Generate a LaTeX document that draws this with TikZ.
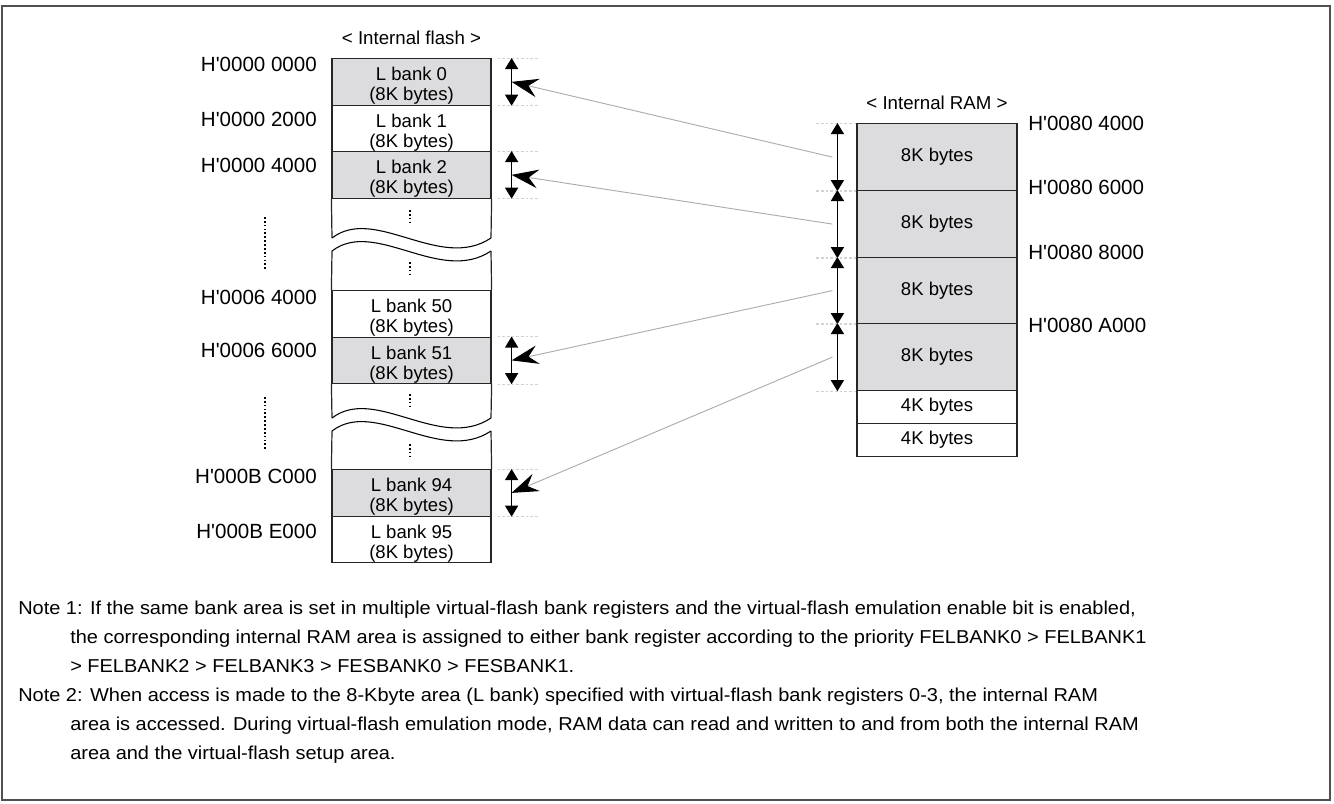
\documentclass[tikz,border=0pt]{standalone}
\usepackage{fontspec}
\usepackage{graphicx}
\setmainfont{Liberation Sans}[Ligatures=TeXOff]
\usetikzlibrary{arrows.meta}
\definecolor{bankgray}{RGB}{220,220,222}
\definecolor{framecol}{RGB}{80,80,80}
\newcommand{\wideline}[1]{\scalebox{1.07}[1]{#1}}
\begin{document}
\begin{tikzpicture}[x=0.75pt,y=-0.75pt,
  bankbox/.style={draw=black!85, line width=0.9pt, minimum width=119.25pt, minimum height=34.9pt, inner sep=0pt, anchor=north},
  rambox/.style={draw=black!85, line width=0.9pt, minimum width=120pt, inner sep=0pt, anchor=north, font=\fontsize{13.9pt}{15pt}\selectfont},
  banktxt/.style={align=center, inner sep=0pt, font=\fontsize{13.9pt}{15pt}\selectfont},
  addr/.style={inner sep=0pt, font=\fontsize{15.4pt}{17pt}\selectfont},
  title/.style={inner sep=0pt, font=\fontsize{14pt}{16pt}\selectfont},
  notetxt/.style={inner sep=0pt, anchor=base west, font=\fontsize{14pt}{16pt}\selectfont},
  dim/.style={line width=0.9pt, {Triangle[width=9.75pt,length=8.25pt]}-{Triangle[width=9.75pt,length=8.25pt]}},
  tick/.style={gray!35, line width=0.5pt, dash pattern=on 2pt off 1.5pt},
  conn/.style={gray!65, line width=0.7pt, -{Stealth[length=20pt,width=14pt,inset=7pt,black]}},
  vdots/.style={line width=1.3pt, dash pattern=on 1.3pt off 1.6pt},
  wave/.style={line width=0.8pt},
  side/.style={line width=0.9pt, black!85}
]
\useasboundingbox (0,0) rectangle (1334,803);
\draw[framecol, line width=1.5pt] (2,6) rectangle (1330,800);

% ---------- Internal flash ----------
\node[title] (ftitle) at (411.5,38) {< Internal flash >};
\node[bankbox, fill=bankgray] (b0) at (411.5,58) {};
\node[bankbox] (b1) at (411.5,104.5) {};
\node[bankbox, fill=bankgray] (b2) at (411.5,151) {};
\node[bankbox] (b50) at (411.5,290) {};
\node[bankbox, fill=bankgray] (b51) at (411.5,336.5) {};
\node[bankbox, fill=bankgray] (b94) at (411.5,469) {};
\node[bankbox] (b95) at (411.5,515.5) {};
\foreach \b/\t in {b0/0, b1/1, b2/2, b50/50, b51/51, b94/94, b95/95}
  \node[banktxt] (t\b) at ([yshift=-3pt]\b.center) {L bank \t\\(8K bytes)};

% broken parts
\coordinate (w1l) at (332,238); \coordinate (w1r) at (491,238);
\coordinate (w2l) at (332,251); \coordinate (w2r) at (491,251);
\coordinate (w3l) at (332,418); \coordinate (w3r) at (491,418);
\coordinate (w4l) at (332,431); \coordinate (w4r) at (491,431);
\draw[side] (b2.south west) -- (w1l);
\draw[side] (b2.south east) -- (w1r);
\draw[wave] (w1l) .. controls (375,205) and (440,272) .. (w1r);
\draw[wave] (w2l) .. controls (375,218) and (440,285) .. (w2r);
\draw[side] (w2l) -- (b50.north west);
\draw[side] (w2r) -- (b50.north east);
\draw[side] (b51.south west) -- (w3l);
\draw[side] (b51.south east) -- (w3r);
\draw[wave] (w3l) .. controls (375,385) and (440,452) .. (w3r);
\draw[wave] (w4l) .. controls (375,398) and (440,465) .. (w4r);
\draw[side] (w4l) -- (b94.north west);
\draw[side] (w4r) -- (b94.north east);
\draw[vdots] (410,210) -- (410,223);
\draw[vdots] (410,262) -- (410,275);
\draw[vdots] (410,394) -- (410,407);
\draw[vdots] (410,444) -- (410,457);

% addresses (flash)
\node[addr, anchor=east] (a0) at (317,64) {H'0000 0000};
\node[addr, anchor=east] (a1) at (317,119.5) {H'0000 2000};
\node[addr, anchor=east] (a2) at (317,165) {H'0000 4000};
\node[addr, anchor=east] (a50) at (317,297.5) {H'0006 4000};
\node[addr, anchor=east] (a51) at (317,350) {H'0006 6000};
\node[addr, anchor=east] (a94) at (317,476) {H'000B C000};
\node[addr, anchor=east] (a95) at (317,531) {H'000B E000};
\draw[vdots] (265,217) -- (265,270);
\draw[vdots] (265,397) -- (265,450);

% flash-side dimension arrows
\foreach \b in {b0,b2,b51,b94}{
  \draw[tick] ([xshift=4.5pt]\b.north east) -- ([xshift=35pt]\b.north east);
  \draw[tick] ([xshift=4.5pt]\b.south east) -- ([xshift=35pt]\b.south east);
  \draw[dim] ([xshift=15pt]\b.north east) -- ([xshift=15pt]\b.south east);
}

% ---------- Internal RAM ----------
\node[title] (rtitle) at (937,103) {< Internal RAM >};
\node[rambox, fill=bankgray, minimum height=50.25pt] (r1) at (937,123) {8K bytes};
\node[rambox, fill=bankgray, minimum height=50.25pt] (r2) at (937,190) {8K bytes};
\node[rambox, fill=bankgray, minimum height=49.5pt] (r3) at (937,257) {8K bytes};
\node[rambox, fill=bankgray, minimum height=50.25pt] (r4) at (937,323) {8K bytes};
\node[rambox, minimum height=24.75pt] (r5) at (937,390) {4K bytes};
\node[rambox, minimum height=24.75pt] (r6) at (937,423) {4K bytes};

\node[addr, anchor=west] (ra1) at (1028,123) {H'0080 4000};
\node[addr, anchor=west] (ra2) at (1028,187) {H'0080 6000};
\node[addr, anchor=west] (ra3) at (1028,252) {H'0080 8000};
\node[addr, anchor=west] (ra4) at (1028,325) {H'0080 A000};

\foreach \r in {r1,r2,r3,r4}{
  \draw[tick] ([xshift=-30pt]\r.north west) -- (\r.north west);
  \draw[tick] ([xshift=-30pt]\r.south west) -- (\r.south west);
  \draw[dim] ([xshift=-14.25pt]\r.north west) -- ([xshift=-14.25pt]\r.south west);
}

% ---------- connectors ----------
\draw[conn] ([xshift=-18pt]r1.west) -- ([xshift=15pt]b0.east);
\draw[conn] ([xshift=-18pt]r2.west) -- ([xshift=15pt]b2.east);
\draw[conn] ([xshift=-18pt]r3.west) -- ([xshift=15pt]b51.east);
\draw[conn] ([xshift=-18pt]r4.west) -- ([xshift=15pt]b94.east);

% ---------- notes ----------
\node[notetxt] (n1a) at (18,614) {\wideline{Note 1: If the same bank area is set in multiple virtual-flash bank registers and the virtual-flash emulation enable bit is enabled,}};
\node[notetxt] (n1b) at (70,643) {\wideline{the corresponding internal RAM area is assigned to either bank register according to the priority FELBANK0 > FELBANK1}};
\node[notetxt] (n1c) at (70,672) {\wideline{> FELBANK2 > FELBANK3 > FESBANK0 > FESBANK1.}};
\node[notetxt] (n2a) at (18,701) {\wideline{Note 2: When access is made to the 8-Kbyte area (L bank) specified with virtual-flash bank registers 0-3, the internal RAM}};
\node[notetxt] (n2b) at (70,730) {\wideline{area is accessed. During virtual-flash emulation mode, RAM data can read and written to and from both the internal RAM}};
\node[notetxt] (n2c) at (70,759) {\wideline{area and the virtual-flash setup area.}};
\end{tikzpicture}
\end{document}
